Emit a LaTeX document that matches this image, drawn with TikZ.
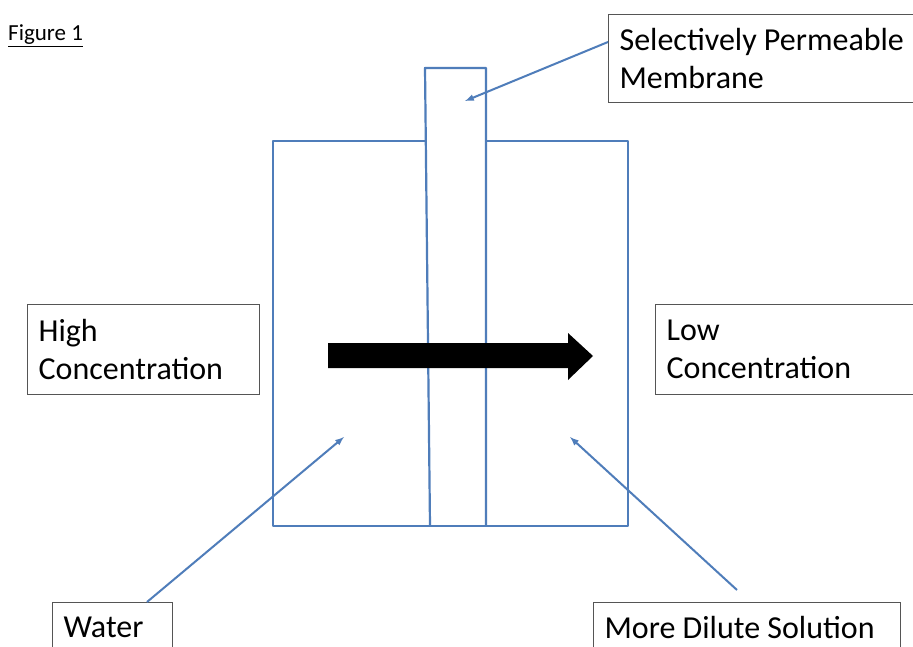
\documentclass[tikz,border=0pt]{standalone}
\usepackage{fontspec}
\setmainfont{Carlito}
\usetikzlibrary{positioning}

\definecolor{tankblue}{RGB}{79,125,186}
\definecolor{boxgray}{RGB}{85,85,85}

\tikzset{
  labelbox/.style={draw=boxgray, line width=1.2pt, fill=white, align=flush left,
    anchor=north west, inner xsep=11pt, inner ysep=0pt,
    font=\fontsize{32}{38}\selectfont},
  pointer/.style={draw=tankblue, line width=2pt, ->, >=latex},
  wall/.style={draw=tankblue, line width=2.2pt, line join=round}
}

\begin{document}
\begin{tikzpicture}[x=1pt,y=-1pt]

\clip (0,0) rectangle (913,647);
\fill[white] (0,0) rectangle (913,647);

% tank and membrane
\draw[wall] (425,141) -- (273,141) -- (273,526) -- (628,526) -- (628,141) -- (486,141);
\draw[wall] (430,526) -- (425,68) -- (486,68) -- (486,526);

% flow arrow
\fill (328,343) -- (568,343) -- (568,333) -- (593,356) -- (568,380) -- (568,368) -- (328,368) -- cycle;

\node (fig) [anchor=base west, inner sep=0pt, font=\fontsize{23}{26}\selectfont] at (8,41) {\underline{Figure 1}};

\node (spm) [labelbox, text width=308pt, minimum height=88pt] at (608,14) {Selectively Permeable\\Membrane};
\node (high) [labelbox, text width=210pt, minimum height=90pt] at (27,304) {High\\Concentration};
\node (low) [labelbox, text width=258pt, minimum height=90pt] at (655,304) {Low\\Concentration};
\node (water) [labelbox, text width=98pt, minimum height=50pt] at (52,602) {Water};
\node (dilute) [labelbox, text width=285pt, minimum height=50pt] at (593,602) {More Dilute Solution};

\coordinate (memb) at (465,101);
\coordinate (leftside) at (344,437);
\coordinate (rightside) at (570,437);
\coordinate (waterend) at (147,602);
\coordinate (diluteend) at (737,590);
\coordinate (spmend) at (608,42);

\draw[pointer] (spmend) -- (memb);
\draw[pointer] (waterend) -- (leftside);
\draw[pointer] (diluteend) -- (rightside);

\end{tikzpicture}
\end{document}
